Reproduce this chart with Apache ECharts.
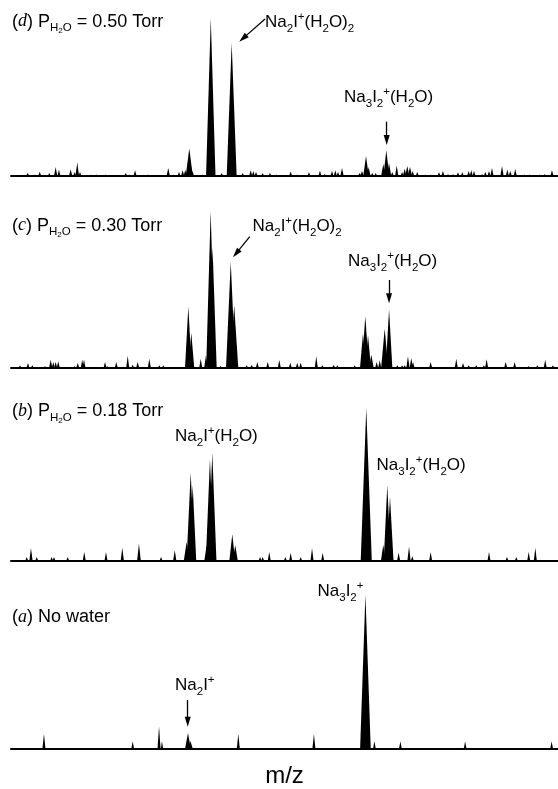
<!DOCTYPE html>
<html>
<head>
<meta charset="utf-8">
<script src="https://cdn.jsdelivr.net/npm/echarts@6/dist/echarts.min.js"></script>
<style>
  html, body { margin: 0; padding: 0; background: #fff; }
  #chart { width: 558px; height: 789px; }
</style>
</head>
<body>
<div id="chart"></div>
<script>
// peaks: [m/z, relative intensity, half width at base (m/z)]
const peaksD = [
  [37.1, 2.1, 1.3], [43.3, 1, 1], [47.3, 2.7, 1.3], [55.4, 1.9, 1.3], [60.8, 5.7, 1.4], [63.6, 4, 1.3],
  [73.5, 4.2, 1.4], [76.9, 2.5, 1.3], [79.1, 8.7, 1.5], [81.4, 2.5, 1.3], [90.5, 1, 1], [95.5, 1, 1],
  [103.2, 1, 1], [120.1, 1.9, 1.3], [123.1, 1, 1], [128, 3.6, 1.3], [139.2, 1, 1], [156.1, 5.1, 1.4],
  [160.4, 1, 1], [165.2, 2.5, 1.3], [168.3, 3.6, 1.3], [170.5, 4, 1.3], [173.9, 17.4, 3], [176.5, 3.2, 1.5],
  [185.3, 1, 1], [192.1, 99.7, 4], [201.3, 1.9, 1.3], [209.8, 84.2, 4.2], [219.1, 1.9, 1.3], [225.9, 3.6, 1.3],
  [228.1, 3.2, 1.3], [230.4, 2.5, 1.3], [236, 1.9, 1.3], [242.2, 1.9, 1.3], [247.9, 1, 1], [259.7, 2.8, 1.3],
  [265.1, 1, 1], [275.2, 2.3, 1.3], [284.5, 3.4, 1.3], [288.5, 1.3, 1.3], [294.7, 3.2, 1.3], [297.5, 3.6, 1.3],
  [299.8, 2.5, 1.3], [303.2, 5.1, 1.4], [318.1, 1.9, 1.5], [320.1, 3.2, 1.5], [323.5, 12.7, 2.3], [325.8, 5.7, 1.5],
  [328.8, 1.9, 1.3], [331.7, 1.9, 1.3], [338.1, 7.6, 1.8], [340.7, 16.3, 2.5], [343, 8.2, 1.8], [345.7, 2.5, 1.3],
  [349.5, 6.6, 1.4], [354, 2.5, 1.3], [356.2, 4.6, 1.5], [358.4, 6.3, 1.8], [360.7, 5.7, 1.8], [363, 3.2, 1.3],
  [366.9, 2.5, 1.3], [373.7, 1, 1], [378.5, 1, 1], [385.3, 2.3, 1.3], [388.6, 3.2, 1.3], [392.9, 1.3, 1],
  [397.1, 1.3, 1], [401.3, 2.3, 1.3], [405, 2.3, 1.3], [410.4, 3.2, 1.3], [412.6, 3.6, 1.3], [414.9, 3.2, 1.3],
  [421.7, 1.3, 1], [424.5, 2.5, 1.3], [427.6, 3.2, 1.3], [430.1, 5.3, 1.3], [438.6, 6.3, 1.4], [443.1, 4.1, 1.3],
  [445.6, 3.2, 1.3], [449.8, 4.4, 1.3], [457.8, 1, 1], [462, 1, 1], [470.5, 1, 1], [474.7, 1.3, 1],
  [480.9, 3.6, 1.3]
];
const peaksC = [
  [30.6, 1.7, 1.3], [37.4, 3.2, 1.3], [41, 1.7, 1.3], [51.8, 1.3, 1], [56.6, 5.3, 1.4], [58.8, 3.8, 1.3],
  [60.8, 3.8, 1.3], [63, 4.2, 1.3], [76.6, 1.3, 1], [79.5, 3.2, 1.3], [83.3, 5.3, 1.3], [84.8, 5.3, 1.3],
  [102.6, 3.8, 1.3], [104.5, 1.3, 1], [112.1, 3.8, 1.3], [121.8, 7.8, 1.3], [126, 2.1, 1.3], [130.2, 3.8, 1.3],
  [140.1, 5.9, 1.3], [148.5, 1.7, 1.3], [151.9, 1.7, 1.3], [173.1, 39, 2.8], [175.6, 22.3, 2.5], [183.6, 5.9, 1.3],
  [188, 8, 1.5], [192, 99.4, 3.8], [193.6, 76.6, 3.5], [200.5, 1.5, 1], [209, 67.1, 4], [211.9, 39.7, 3.5],
  [222.5, 1.7, 1.3], [226.7, 2.1, 1.3], [231.5, 3.8, 1.3], [240.3, 3.8, 1.3], [250.1, 5, 1.3], [259.4, 3.4, 1.3],
  [265.3, 3.4, 1.3], [268.2, 3.4, 1.3], [281.4, 7.4, 1.3], [286.5, 1.7, 1.3], [296.1, 2.1, 1.3], [299.2, 1.7, 1.3],
  [313.9, 1.7, 1.3], [320.9, 21.7, 2.5], [322.9, 32.9, 3], [325.2, 20.7, 2.5], [328, 8.4, 2], [332.5, 3.8, 1.3],
  [335.1, 4.9, 1.3], [339.3, 24.9, 3], [343, 37.2, 2.8], [350, 1.7, 1.3], [354, 1.7, 1.3], [356.2, 1.7, 1.3],
  [359, 7.4, 1.4], [361.8, 6.3, 1.4], [363.3, 3.8, 1.3], [378.2, 3.8, 1.3], [399.9, 5.9, 1.3], [405.6, 3.2, 1.3],
  [410.4, 1.7, 1.3], [416.8, 1.7, 1.3], [423.3, 1.7, 1.3], [425.6, 5.5, 1.3], [441.7, 3.8, 1.3], [449.3, 3.8, 1.3],
  [461.2, 1.3, 1], [468.5, 1.7, 1.3], [475.2, 5.3, 1.3], [481.7, 1.7, 1.3]
];
const peaksB = [
  [36.3, 2.5, 1.3], [39.9, 8.2, 1.4], [44.8, 2.5, 1.3], [57.4, 2.5, 1.3], [59.4, 2.5, 1.3], [71, 2.5, 1.3],
  [85, 5.7, 1.3], [103.4, 5.7, 1.3], [117.2, 8.4, 1.4], [131.3, 10.9, 1.6], [150, 2.5, 1.3], [161.6, 6.8, 1.4],
  [171.7, 12, 2.5], [175.1, 55.9, 3.5], [176.8, 47.9, 3], [188.6, 9.9, 2], [191.4, 64.6, 3.5], [193.4, 68.5, 3.5],
  [210.3, 16.9, 2.5], [212.8, 9.9, 2.2], [233.8, 2.5, 1.3], [236, 2.5, 1.3], [241.6, 5.7, 1.3], [255.2, 2.5, 1.3],
  [259.7, 5.3, 1.3], [268.2, 2.5, 1.3], [277.8, 8.2, 1.3], [286.8, 5.3, 1.3], [323.7, 96.8, 4.7], [338.1, 10.3, 2],
  [341.5, 47.9, 3], [343.8, 40.5, 3], [351.1, 5.3, 1.3], [359.9, 9.1, 1.4], [362.7, 3, 1.3], [378.2, 5.7, 1.3],
  [427.6, 5.7, 1.3], [442.8, 2.5, 1.3], [450.7, 2.5, 1.3], [461.2, 5.7, 1.3], [466.8, 8.4, 1.3]
];
const peaksA = [
  [50.9, 9.7, 1.3], [126, 4.9, 1.2], [148.3, 14.4, 1.3], [150.8, 4.9, 1], [172.8, 10.1, 2.5], [174.9, 5, 2],
  [215.4, 9.7, 1.3], [279.4, 9.5, 1.3], [323, 97.7, 4.5], [330.6, 4.9, 1.2], [352.6, 4.9, 1.2], [407.4, 4.9, 1.2],
  [480.6, 4.9, 1.2]
];
const panelTops = [18, 210, 403, 591];

const FONT = 'Arial, "Liberation Sans", Helvetica, sans-serif';

function richFor(size) {
  return {
    it: { fontFamily: '"Liberation Serif", "Times New Roman", serif', fontStyle: 'italic', fontSize: size },
    s: { fontFamily: FONT, fontSize: 11.5, padding: [13, 0, 0, 0] },
    ss: { fontFamily: FONT, fontSize: 8, padding: [18, 0, 0, 0] },
    p: { fontFamily: FONT, fontSize: 11.5, padding: [0, 0, 11, 0] }
  };
}

function label(x, baseline, text, size) {
  size = size || 17;
  return {
    type: 'text', x: x, y: baseline - size * 0.33, silent: true,
    style: { text: text, rich: richFor(size), fontFamily: FONT, fontSize: size, fill: '#000', align: 'left', verticalAlign: 'middle' }
  };
}

function renderPeak(params, api) {
  const mz = api.value(0), h = api.value(1), w = api.value(2);
  return {
    type: 'polygon',
    shape: { points: [api.coord([mz - w, 0]), api.coord([mz, h]), api.coord([mz + w, 0])] },
    style: { fill: '#000' }
  };
}

function arrow(from, to) {
  return [
    { coord: from, symbol: 'none' },
    { coord: to, symbol: 'triangle', symbolSize: [6, 10] }
  ];
}

const chart = echarts.init(document.getElementById('chart'));
const panels = [peaksD, peaksC, peaksB, peaksA];
const arrows = [
  [arrow([238, 99.4], [219.4, 87.1]), arrow([341, 34.4], [341, 22.8])],
  [arrow([225.1, 83.1], [213.6, 72.5]), arrow([343, 55.7], [343, 44.1])],
  [],
  [arrow([172.6, 31], [172.6, 17.3])]
];

chart.setOption({
  animation: false,
  backgroundColor: '#fff',
  grid: panelTops.map(t => ({ left: 11, right: 0, top: t, height: 158 })),
  xAxis: panelTops.map((t, i) => ({
    type: 'value', gridIndex: i, min: 23, max: 486,
    axisLine: { show: true, onZero: false, lineStyle: { color: '#000', width: 2 } },
    axisTick: { show: false }, axisLabel: { show: false }, splitLine: { show: false },
    name: i === 3 ? 'm/z' : '', nameLocation: 'middle', nameGap: 15,
    nameTextStyle: { fontFamily: FONT, fontSize: 24, color: '#000' }
  })),
  yAxis: panelTops.map((t, i) => ({ type: 'value', gridIndex: i, min: 0, max: 100, show: false })),
  series: panels.map((data, i) => ({
    type: 'custom', xAxisIndex: i, yAxisIndex: i,
    dimensions: ['mz', 'intensity', 'halfWidth'],
    encode: { x: 0, y: 1 },
    renderItem: renderPeak,
    itemStyle: { color: '#000' },
    silent: true,
    data: data,
    markLine: {
      silent: true, animation: false,
      symbol: ['none', 'triangle'],
      label: { show: false },
      lineStyle: { color: '#000', width: 1.3, type: 'solid' },
      itemStyle: { color: '#000' },
      data: arrows[i]
    }
  })),
  graphic: [
    label(12, 27.7, '({it|d}) P{s|H}{ss|2}{s|O} = 0.50 Torr', 18),
    label(265, 27.5, 'Na{s|2}I{p|+}(H{s|2}O){s|2}'),
    label(344, 103.3, 'Na{s|3}I{s|2}{p|+}(H{s|2}O)'),
    label(12, 231.7, '({it|c}) P{s|H}{ss|2}{s|O} = 0.30 Torr', 18),
    label(252.5, 231.7, 'Na{s|2}I{p|+}(H{s|2}O){s|2}'),
    label(348, 267.3, 'Na{s|3}I{s|2}{p|+}(H{s|2}O)'),
    label(12, 417.3, '({it|b}) P{s|H}{ss|2}{s|O} = 0.18 Torr', 18),
    label(175, 441.7, 'Na{s|2}I{p|+}(H{s|2}O)'),
    label(376.5, 471, 'Na{s|3}I{s|2}{p|+}(H{s|2}O)'),
    label(12, 623.3, '({it|a}) No water', 18),
    label(317.5, 597, 'Na{s|3}I{s|2}{p|+}'),
    label(175, 691, 'Na{s|2}I{p|+}')
  ]
});
</script>
</body>
</html>
